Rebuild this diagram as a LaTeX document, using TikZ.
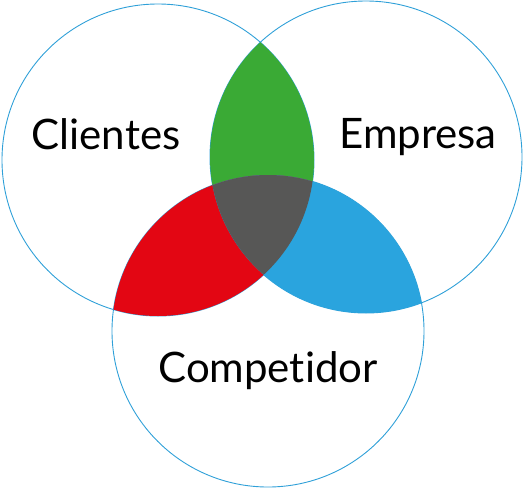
\documentclass[tikz,border=0pt]{standalone}
\usepackage{fontspec}
\setmainfont{Lato}[RawFeature={-liga;-dlig;-clig}]
\begin{document}
\begin{tikzpicture}[x=1pt,y=-1pt,
  ring/.style={draw=ringblue,line width=0.9pt},
  lbl/.style={font=\fontsize{42}{42}\selectfont,text=black,anchor=base,inner sep=0pt}]
\definecolor{ringblue}{HTML}{2FA0D8}
\definecolor{vgreen}{HTML}{3AAA35}
\definecolor{vred}{HTML}{E30613}
\definecolor{vblue}{HTML}{2AA4DE}
\definecolor{vgrey}{HTML}{575756}
\useasboundingbox (0,0) rectangle (524,488);
\coordinate (L) at (158,160);
\coordinate (R) at (366,157);
\coordinate (B) at (268,331);
\def\rr{156pt}
\draw[ring] (L) circle[radius=\rr];
\draw[ring] (R) circle[radius=\rr];
\draw[ring] (B) circle[radius=\rr];
\begin{scope}
  \clip (L) circle[radius=\rr];
  \fill[vgreen] (R) circle[radius=\rr];
  \fill[vred] (B) circle[radius=\rr];
\end{scope}
\begin{scope}
  \clip (R) circle[radius=\rr];
  \fill[vblue] (B) circle[radius=\rr];
\end{scope}
\begin{scope}
  \clip (L) circle[radius=\rr];
  \clip (R) circle[radius=\rr];
  \fill[vgrey] (B) circle[radius=\rr];
\end{scope}
\node[lbl] (c) at (106,149) {Clientes};
\node[lbl] (e) at (418,148) {Empresa};
\node[lbl] (p) at (268,382) {Competidor};
\end{tikzpicture}
\end{document}
